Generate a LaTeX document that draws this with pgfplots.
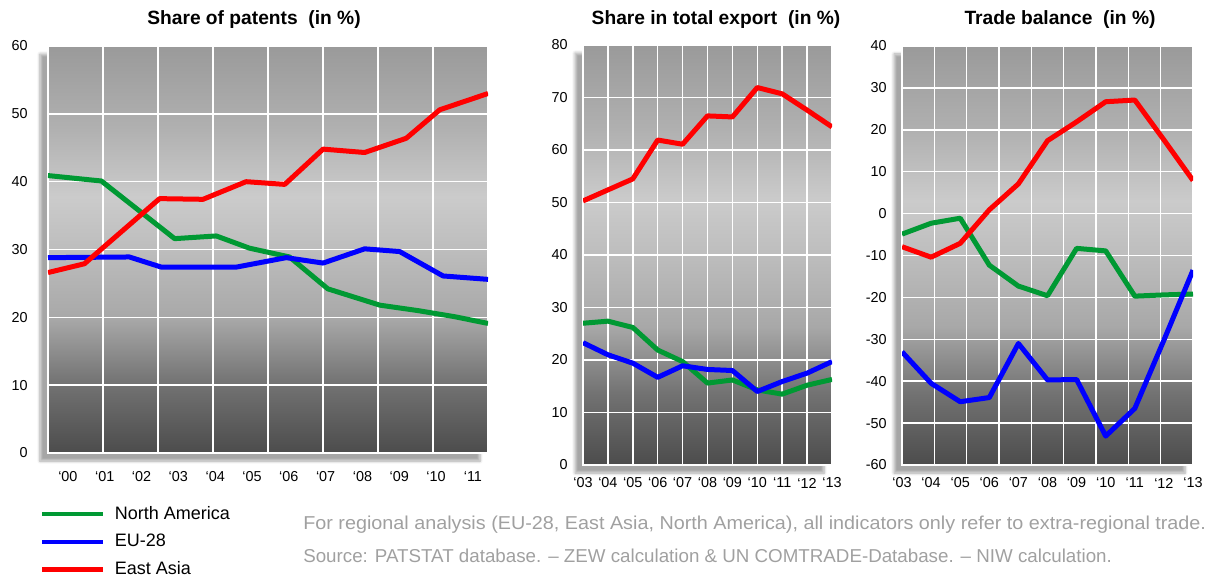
\documentclass[border=0pt]{standalone}
\usepackage{fontspec}
\setmainfont{Liberation Sans}
\newfontfamily\noteA[FakeStretch=1.06]{Liberation Sans}
\newfontfamily\noteB[FakeStretch=1.005]{Liberation Sans}
\usepackage{pgfplots}
\pgfplotsset{compat=1.18}
\usetikzlibrary{shadows.blur}
\definecolor{naGreen}{RGB}{0,153,51}
\definecolor{euBlue}{RGB}{0,0,255}
\definecolor{eaRed}{RGB}{255,0,0}
\definecolor{notegray}{RGB}{160,160,160}
\definecolor{cA}{RGB}{76,76,76}
\definecolor{cB}{RGB}{114,114,114}
\definecolor{cC}{RGB}{168,168,168}
\definecolor{cD}{RGB}{189,189,189}
\definecolor{cE}{RGB}{203,203,203}
\definecolor{cF}{RGB}{176,176,176}
\definecolor{cG}{RGB}{154,154,154}
\pgfdeclareverticalshading{chartbg}{100bp}{color(0bp)=(cA); color(25bp)=(cA); color(33.5bp)=(cB); color(41.5bp)=(cC); color(50bp)=(cD); color(56.5bp)=(cE); color(65bp)=(cF); color(75bp)=(cG); color(100bp)=(cG)}
\pgfplotsset{
  panel/.style={
    scale only axis, anchor=south west,
    major tick length=0pt,
    ymajorgrids,
    grid style={white, line width=1.1pt},
    axis line style={white, line width=1pt},
    axis background/.style={shade, shading=chartbg, blur shadow={shadow xshift=-6pt, shadow yshift=-6pt, shadow blur steps=6, shadow opacity=35}},
    tick label style={font=\fontsize{10.8}{13}\selectfont},
    /pgf/number format/assume math mode=true,
    every axis plot/.append style={line width=3.75pt, line join=round, no markers},
  }
}
\begin{document}
\begin{tikzpicture}
\useasboundingbox (0pt,0pt) rectangle (907.5pt,-434.25pt);
% Panel 1
\begin{axis}[panel,
  at={(36pt,-339.75pt)}, width=330pt, height=305.25pt,
  xmin=-0.54, xmax=11.41, ymin=0, ymax=60,
  ytick={0,10,...,60},
  xtick={0,...,11},
  xticklabels={‘00,‘01,‘02,‘03,‘04,‘05,‘06,‘07,‘08,‘09,‘10,‘11},
  extra x ticks={0.954,2.448,3.942,5.436,6.930,8.424,9.918},
  extra x tick labels={},
  extra x tick style={grid=major, major tick length=0pt},
  yticklabel style={anchor=east, inner sep=0pt, xshift=-15pt},
  xticklabel style={anchor=center, inner sep=0pt, yshift=-18pt},
  legend style={at={(-0.018,-0.124)}, anchor=north west, draw=none, fill=none,
    font=\fontsize{13.5}{16}\selectfont, row sep=5.7pt, column sep=5pt, inner sep=0pt,
    cells={anchor=west}},
  legend image code/.code={\draw[#1, line width=3.2pt] (0pt,0pt) -- (45.75pt,0pt);},
]
\addplot[naGreen] coordinates {(-0.54,40.9) (0.91,40.1) (2.90,31.6) (4.03,32.0) (4.93,30.2) (6.02,28.9) (7.06,24.2) (8.47,21.8) (9.50,21.0) (10.50,20.1) (11.41,19.1)};
\addlegendentry{North America}
\addplot[euBlue] coordinates {(-0.54,28.8) (1.67,28.9) (2.54,27.4) (4.57,27.4) (5.93,28.8) (6.93,28.0) (8.06,30.1) (9.01,29.7) (10.19,26.1) (11.41,25.6)};
\addlegendentry{EU-28}
\addplot[eaRed] coordinates {(-0.54,26.6) (0.45,27.9) (2.49,37.5) (3.67,37.4) (4.84,40.0) (5.89,39.6) (6.93,44.8) (8.06,44.3) (9.19,46.4) (10.10,50.6) (11.41,53.0)};
\addlegendentry{East Asia}
\end{axis}
% Panel 2
\begin{axis}[panel,
  at={(437.25pt,-348.75pt)}, width=186.75pt, height=315pt,
  xmin=2003, xmax=2013, ymin=0, ymax=80,
  ytick={0,10,...,80},
  xtick={2003,...,2013},
  xticklabels={‘03,‘04,‘05,‘06,‘07,‘08,‘09,‘10,‘11,‘12,‘13},
  xmajorgrids,
  yticklabel style={anchor=east, inner sep=0pt, xshift=-11.25pt},
  xticklabel style={anchor=center, inner sep=0pt, yshift=-13.5pt},
]
\addplot[naGreen] coordinates {(2003,27.0) (2004,27.4) (2005,26.2) (2006,21.9) (2007,19.7) (2008,15.6) (2009,16.2) (2010,14.3) (2011,13.5) (2012,15.2) (2013,16.3)};
\addplot[euBlue] coordinates {(2003,23.3) (2004,21.0) (2005,19.4) (2006,16.7) (2007,18.9) (2008,18.2) (2009,18.0) (2010,14.0) (2011,15.9) (2012,17.5) (2013,19.7)};
\addplot[eaRed] coordinates {(2003,50.3) (2004,52.4) (2005,54.5) (2006,61.9) (2007,61.1) (2008,66.5) (2009,66.3) (2010,71.9) (2011,70.7) (2012,67.6) (2013,64.4)};
\end{axis}
% Panel 3
\begin{axis}[panel,
  at={(676.5pt,-348.75pt)}, width=218.25pt, height=314.25pt,
  xmin=2003, xmax=2013, ymin=-60, ymax=40,
  ytick={-60,-50,...,40},
  yticklabels={-60,-50,-40,-30,-20,-10,0,10,20,30,40},
  xtick={2003,...,2013},
  xticklabels={‘03,‘04,‘05,‘06,‘07,‘08,‘09,‘10,‘11,‘12,‘13},
  extra x ticks={2004.111,2005.222,2006.333,2007.444,2008.556,2009.667,2010.778,2011.889},
  extra x tick labels={},
  extra x tick style={grid=major, major tick length=0pt},
  yticklabel style={anchor=east, inner sep=0pt, xshift=-11.25pt},
  xticklabel style={anchor=center, inner sep=0pt, yshift=-13.5pt},
]
\addplot[naGreen] coordinates {(2003,-4.9) (2004,-2.3) (2005,-1.1) (2006,-12.3) (2007,-17.3) (2008,-19.6) (2009,-8.3) (2010,-8.9) (2011,-19.7) (2012,-19.4) (2013,-19.2)};
\addplot[euBlue] coordinates {(2003,-33.0) (2004,-40.5) (2005,-44.9) (2006,-43.9) (2007,-31.0) (2008,-39.7) (2009,-39.6) (2010,-53.1) (2011,-46.5) (2012,-30.2) (2013,-13.5)};
\addplot[eaRed] coordinates {(2003,-7.9) (2004,-10.4) (2005,-7.1) (2006,0.9) (2007,7.1) (2008,17.4) (2009,21.9) (2010,26.7) (2011,27.1) (2012,17.6) (2013,7.9)};
\end{axis}
% Titles
\node[font=\bfseries\fontsize{14.4}{17}\selectfont] at (190.5pt,-14.5pt) {Share of patents\ \ (in \%)};
\node[font=\bfseries\fontsize{14.4}{17}\selectfont] at (537pt,-14.5pt) {Share in total export\ \ (in \%)};
\node[font=\bfseries\fontsize{14.4}{17}\selectfont] at (795pt,-14.5pt) {Trade balance\ \ (in \%)};
% Footnotes
\node[anchor=west, inner sep=0pt, text=notegray, font=\noteA\fontsize{14}{16}\selectfont] at (227.25pt,-393.75pt) {For regional analysis (EU-28, East Asia, North America), all indicators only refer to extra-regional trade.};
\node[anchor=west, inner sep=0pt, text=notegray, font=\noteB\fontsize{14}{16}\selectfont] at (227.25pt,-416.75pt) {Source: PATSTAT database. – ZEW calculation \& UN COMTRADE-Database. – NIW calculation.};
\end{tikzpicture}
\end{document}
